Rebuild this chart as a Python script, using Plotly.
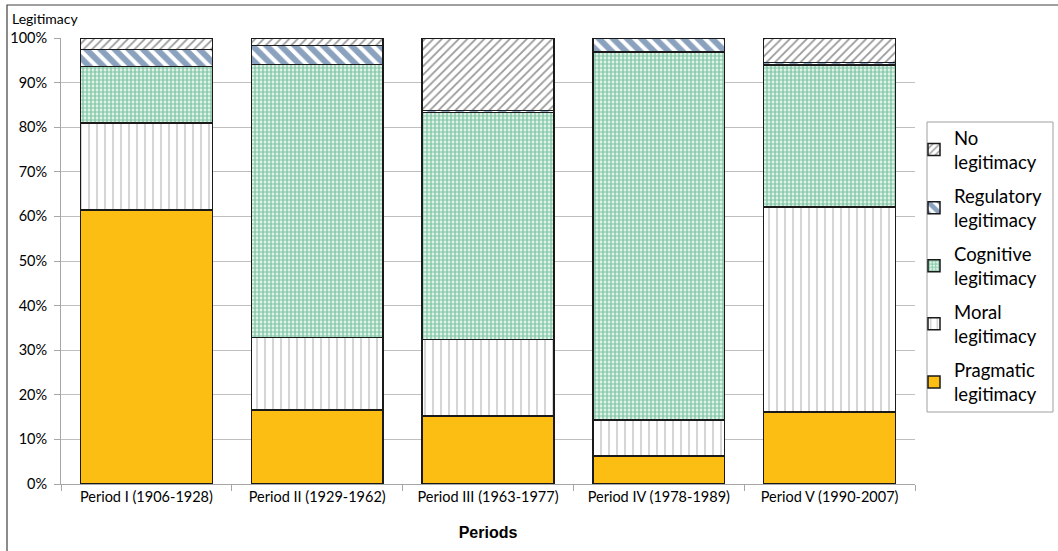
import plotly.graph_objects as go

# Share of each legitimacy type per period (percent)
periods = ["Period I (1906-1928)", "Period II (1929-1962)", "Period III (1963-1977)",
           "Period IV (1978-1989)", "Period V (1990-2007)"]
pragmatic = [61.4, 16.6, 15.3, 6.3, 16.2]
moral = [19.5, 16.2, 17.1, 8.1, 45.9]
cognitive = [12.7, 61.3, 50.9, 82.5, 31.8]
regulatory = [3.8, 4.2, 0.5, 3.1, 0.6]
no_legitimacy = [2.6, 1.7, 16.2, 0.0, 5.5]
y_ticks = [0, 10, 20, 30, 40, 50, 60, 70, 80, 90, 100]

W, H = 1058, 551
ML, MR, MT, MB = 61, 143, 38, 67
PW, PH = W - ML - MR, H - MT - MB


def px_x(x):
    return (x - ML) / PW


def px_y(y):
    return (MT + PH - y) / PH


series = [
    ("Pragmatic<br>legitimacy", pragmatic, dict(color="#FCBE12")),
    ("Moral<br>legitimacy", moral,
     dict(color="white", pattern=dict(shape="|", fgcolor="#8a8a8a", bgcolor="white",
                                      size=8, solidity=0.18))),
    ("Cognitive<br>legitimacy", cognitive,
     dict(color="white", pattern=dict(shape=".", fgcolor="#1C9C5C", bgcolor="white",
                                      size=4, solidity=0.7))),
    ("Regulatory<br>legitimacy", regulatory,
     dict(color="white", pattern=dict(shape="\\", fgcolor="#17457F", bgcolor="white",
                                      size=10, solidity=0.6))),
    ("No<br>legitimacy", no_legitimacy,
     dict(color="white", pattern=dict(shape="/", fgcolor="#333333", bgcolor="white",
                                      size=6, solidity=0.3))),
]

fig = go.Figure()
n = len(series)
for i, (name, vals, marker) in enumerate(series):
    marker = dict(marker)
    marker["line"] = dict(color="#1a1a1a", width=1.5)
    fig.add_trace(go.Bar(x=periods, y=vals, name=name, legendgroup=name,
                         legendrank=n - i, marker=marker))

fig.update_layout(
    width=W, height=H,
    margin=dict(l=ML, r=MR, t=MT, b=MB, autoexpand=False),
    barmode="stack", bargap=0.228,
    plot_bgcolor="white", paper_bgcolor="white",
    font=dict(family="Lato, Carlito, sans-serif", size=14.5, color="black"),
    showlegend=True,
    legend=dict(
        xref="container", yref="container",
        x=914 / W, y=1 - 119 / H, xanchor="left", yanchor="top",
        borderwidth=0, bgcolor="rgba(0,0,0,0)",
        font=dict(size=18.5, family="Lato, Carlito, sans-serif"),
        traceorder="grouped", tracegroupgap=7, itemwidth=30,
        maxheight=360,
    ),
    xaxis=dict(
        showline=True, linecolor="#a6a6a6", linewidth=1,
        ticks="outside", tickson="boundaries", ticklen=6, tickcolor="#a6a6a6",
        tickfont=dict(size=14.5),
        title=dict(text="<b>Periods</b>", font=dict(family="Liberation Sans", size=16),
                   standoff=22),
    ),
    yaxis=dict(
        range=[0, 100], tickvals=y_ticks,
        ticktext=[f"{v}%" for v in y_ticks],
        showline=True, linecolor="#a6a6a6", linewidth=1,
        ticks="outside", ticklen=6, tickcolor="#a6a6a6",
        showgrid=True, gridcolor="#bfbfbf", gridwidth=1,
        tickfont=dict(size=14.5), ticklabelstandoff=4,
    ),
    annotations=[dict(
        text="Legitimacy", xref="paper", yref="paper",
        x=px_x(10), y=px_y(18), xanchor="left", yanchor="middle",
        showarrow=False, font=dict(size=14),
    )],
    shapes=[
        # outer chart frame
        dict(type="rect", xref="paper", yref="paper",
             x0=px_x(7), x1=px_x(1070), y0=px_y(560), y1=px_y(5),
             line=dict(color="#404040", width=1.2), layer="below"),
        # legend box
        dict(type="rect", xref="paper", yref="paper",
             x0=px_x(927), x1=px_x(1053), y0=px_y(412), y1=px_y(122),
             line=dict(color="#a0a0a0", width=1), fillcolor="white", layer="below"),
    ],
)

fig.write_html("out.html")
